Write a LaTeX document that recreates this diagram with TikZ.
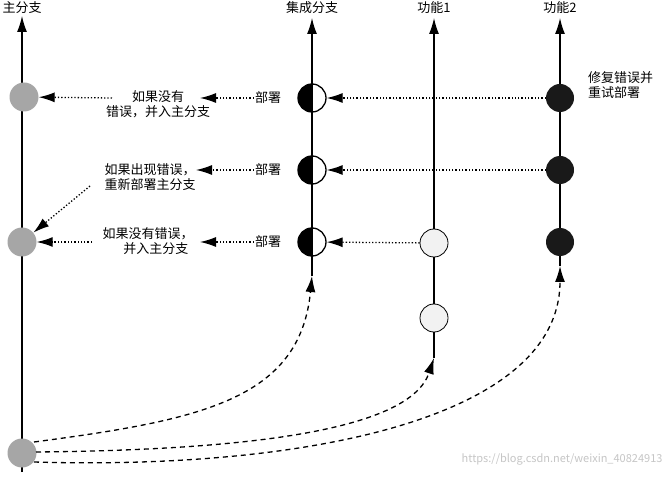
\documentclass[tikz,border=0pt]{standalone}
\usepackage{fontspec}
\setmainfont{Noto Sans CJK SC}
\usetikzlibrary{arrows.meta}
\begin{document}
\begin{tikzpicture}[x=1pt,y=-1pt,
  tip/.style={-{Latex[length=16pt,width=10pt]}},
  br/.style={line width=1.3pt,tip},
  dt/.style={dotted,line width=1.3pt,tip},
  ds/.style={dash pattern=on 5pt off 4pt,line width=1.3pt,tip},
  lbl/.style={font=\fontsize{13}{15}\selectfont,align=center,inner sep=1pt},
  gc/.style={circle,minimum size=29pt,inner sep=0pt,fill=gray!70},
  wc/.style={circle,minimum size=28pt,inner sep=0pt,fill=gray!10,draw=black,line width=0.8pt},
  bc/.style={circle,minimum size=28pt,inner sep=0pt,fill=black!90},
  hc/.style={circle,minimum size=28pt,inner sep=0pt,draw=black,fill=white,line width=1.3pt,
    path picture={\fill[black] (path picture bounding box.north west) rectangle (path picture bounding box.south);}}]
\useasboundingbox[fill=white] (0,0) rectangle (672,478);
% branch lines
\coordinate (m0) at (22,472); \coordinate (m1) at (22,16);
\coordinate (i0) at (312,276); \coordinate (i1) at (312,18);
\coordinate (f0) at (434,358); \coordinate (f1) at (434,18);
\coordinate (g0) at (560,266); \coordinate (g1) at (560,18);
\draw[br] (m0)--(m1); \draw[br] (i0)--(i1); \draw[br] (f0)--(f1); \draw[br] (g0)--(g1);
\node[lbl] (tm) at (22,8) {主分支};
\node[lbl] (ti) at (312,8) {集成分支};
\node[lbl] (tf) at (434,8) {功能1};
\node[lbl] (tg) at (560,8) {功能2};
% circles
\node[gc] (m1c) at (24,97) {};
\node[gc] (m2c) at (22,242) {};
\node[gc] (m3c) at (22,453) {};
\node[hc] (i1c) at (312,98) {};
\node[hc] (i2c) at (312,170) {};
\node[hc] (i3c) at (312,242) {};
\foreach \n in {i1c,i2c,i3c}{\draw[line width=1.3pt] (\n.north) -- (\n.south);}
\node[wc] (f1c) at (434,243) {};
\node[wc] (f2c) at (434,318) {};
\node[bc] (g1c) at (560,98) {};
\node[bc] (g2c) at (560,170) {};
\node[bc] (g3c) at (560,242) {};
% labels
\node[lbl,anchor=west,align=left] (gl) at (587,85) {修复错误并\\重试部署};
\node[lbl] (d1) at (268,98) {部署};
\node[lbl] (d2) at (268,170) {部署};
\node[lbl] (d3) at (268,242) {部署};
\node[lbl] (t1) at (158,104) {如果没有\\错误，并入主分支};
\node[lbl] (t2) at (150,177) {如果出现错误，\\重新部署主分支};
\node[lbl] (t3) at (148,241) {如果没有错误，\\\hspace*{1.2em}并入主分支};
% dotted arrows
\draw[dt] (g1c) -- (i1c);
\draw[dt] (g2c) -- (i2c);
\draw[dt] (f1c) -- (i3c);
\draw[dt] (d1) -- (200,98);
\draw[dt] (d2) -- (196,170);
\draw[dt] (d3) -- (200,242);
\draw[dt] (112,98) -- (m1c);
\draw[dt] (90,186) -- (m2c);
\draw[dt] (92,242) -- (m2c);
% dashed curves
\draw[ds] (34,442) .. controls (200,420) and (300,400) .. (i0);
\draw[ds] (36,452) .. controls (250,450) and (410,430) .. (f0);
\draw[ds] (34,462) .. controls (300,470) and (560,420) .. (g0);
\node[font=\fontsize{11}{13}\selectfont,text=gray!45,anchor=east] (wm) at (666,459) {https://blog.csdn.net/weixin\_40824913};
\end{tikzpicture}
\end{document}
